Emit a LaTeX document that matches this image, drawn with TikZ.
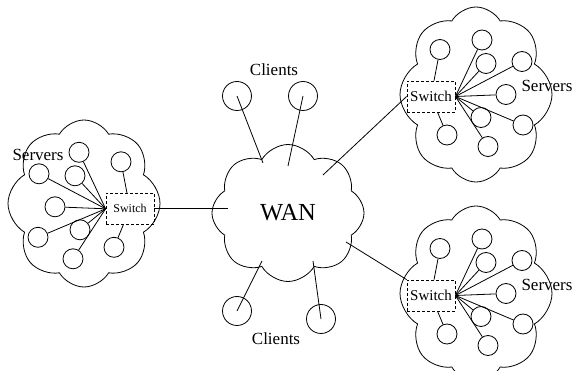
\documentclass[tikz,border=0pt]{standalone}
\usepackage{fontspec}
\setmainfont{Liberation Serif}
\usetikzlibrary{shapes.symbols,calc}
\tikzset{
  netcloud/.style={cloud, draw, cloud puffs=8, cloud puff arc=120, cloud ignores aspect, inner sep=0pt, line width=0.8pt},
  srv/.style={circle, draw, minimum size=20pt, inner sep=0pt, line width=0.8pt},
  cli/.style={circle, draw, minimum size=29pt, inner sep=0pt, line width=0.8pt},
  switchbox/.style={draw, dash pattern=on 3pt off 2pt, minimum width=48pt, minimum height=31pt, inner sep=0pt, line width=0.8pt},
  lbl/.style={font=\fontsize{17}{20}\selectfont, inner sep=0pt},
  conn/.style={line width=0.8pt},
}
\newcommand\serverfarm[6]{%
  \node[switchbox, font=\fontsize{#6}{#6}\selectfont] (#1sw) at (#2,#3) {Switch};
  \foreach \n/\dx/\dy in {1/9/-47,2/51/-56.5,3/55/-33,4/91/-35,5/75/-2,6/50/21,7/92/28.5,8/16/38.5,9/57/50}
    \node[srv] (#1s\n) at ({#2+#4*\dx},{#3+\dy}) {};
  \draw[conn] (#1sw) -- (#1s1);
  \draw[conn] (#1sw) -- (#1s8);
  \foreach \n in {2,3,4,5,6,7,9} \draw[conn] (#1sw.#5) -- (#1s\n);
}
\begin{document}
\begin{tikzpicture}[x=1pt,y=-1pt]
\useasboundingbox (0,0) rectangle (579,371);
% clouds
\node[netcloud, minimum width=152pt, minimum height=167pt] (lcloud) at (84,203.5) {};
\node[netcloud, minimum width=152pt, minimum height=175pt] (urcloud) at (476,94.5) {};
\node[netcloud, minimum width=152pt, minimum height=175pt] (lrcloud) at (476,293.5) {};
\node[netcloud, minimum width=152pt, minimum height=137pt, font=\fontsize{24.5}{28}\selectfont] (wan) at (288,213) {WAN};
% server farms
\serverfarm{l}{130}{208.8}{-1}{west}{12}
\serverfarm{ur}{431}{96.5}{1}{east}{15}
\serverfarm{lr}{431}{295.5}{1}{east}{15}
\node[lbl] (lsv) at (38,155) {Servers};
\node[lbl] (ursv) at (547,86) {Servers};
\node[lbl] (lrsv) at (547,285) {Servers};
% clients
\node[cli] (c1) at (237,96) {};
\node[cli] (c2) at (303,96) {};
\node[cli] (c3) at (237,311) {};
\node[cli] (c4) at (321,319) {};
\node[lbl] (tcl) at (274,70) {Clients};
\node[lbl] (bcl) at (276,339) {Clients};
% interior points of the WAN cloud
\coordinate (w1) at (263,163);
\coordinate (w2) at (288,166);
\coordinate (w3) at (262,261);
\coordinate (w4) at (313,261);
\coordinate (wl) at (228,208.8);
\coordinate (wur) at (323,175);
\coordinate (wlr) at (346,242);
\draw[conn] (c1.center) -- (w1);
\draw[conn] (c2.center) -- (w2);
\draw[conn] (c3.center) -- (w3);
\draw[conn] (c4.center) -- (w4);
\draw[conn] (lsw.east) -- (wl);
\draw[conn] (wur) -- (ursw.west);
\draw[conn] (wlr) -- (lrsw.north west);
\end{tikzpicture}
\end{document}
